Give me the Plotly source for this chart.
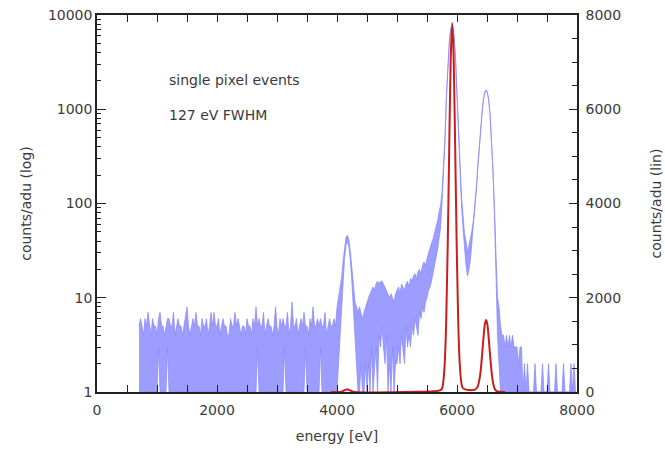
import plotly.graph_objects as go

# ---------------- data ----------------
bin_start_ev = 700
bin_width_ev = 25

# blue spectrum (log axis): per 25 eV bin, the top (hi) and bottom (lo)
# of the rapidly oscillating noisy line
blue_hi_700_3975 = [
    5, 6, 5, 4, 6, 5, 7, 5, 4, 6,
    5, 5, 4, 6, 7, 5, 5, 4, 5, 6,
    6, 5, 5, 7, 4, 5, 6, 5, 5, 4,
    5, 6, 8, 5, 4, 5, 6, 5, 7, 5,
    5, 4, 6, 5, 5, 6, 4, 5, 7, 5,
    7, 5, 5, 6, 4, 5, 6, 5, 5, 4,
    4, 6, 5, 5, 7, 5, 6, 5, 4, 5,
    5, 4, 6, 5, 5, 4, 6, 5, 8, 5,
    6, 5, 5, 7, 4, 5, 6, 5, 5, 4,
    5, 8, 5, 4, 6, 5, 6, 5, 5, 7,
    4, 5, 9, 5, 5, 6, 4, 5, 6, 5,
    7, 5, 5, 4, 6, 5, 8, 5, 5, 6,
    5, 6, 5, 5, 7, 4, 5, 6, 5, 5,
    6, 5,
]
blue_lo_700_3975 = [
    1, 1, 1, 1, 1, 1, 1, 1, 1, 1,
    1, 1, 1, 3, 1, 1, 1, 1, 1, 3,
    1, 1, 1, 1, 1, 1, 1, 1, 1, 1,
    1, 1, 1, 1, 1, 1, 1, 1, 1, 1,
    1, 1, 1, 1, 1, 1, 1, 1, 1, 1,
    1, 1, 1, 1, 1, 1, 1, 1, 1, 1,
    1, 1, 1, 1, 1, 1, 1, 1, 1, 1,
    1, 1, 1, 1, 1, 1, 1, 1, 1, 3,
    1, 1, 1, 1, 1, 1, 1, 1, 1, 1,
    1, 1, 1, 1, 1, 1, 1, 3, 1, 1,
    1, 1, 1, 1, 1, 1, 1, 1, 1, 1,
    1, 3, 1, 1, 1, 1, 1, 1, 1, 1,
    1, 3, 1, 1, 1, 1, 1, 1, 1, 1,
    1, 1,
]
blue_hi_4000_4975 = [
    8, 10, 12, 16, 24, 34, 44, 46, 40, 30,
    20, 13, 9, 8, 7, 8, 7, 6, 7, 8,
    9, 10, 11, 12, 13, 12, 14, 15, 14, 15,
    15, 14, 13, 12, 11, 10, 11, 10, 9, 11,
]
blue_lo_4000_4975 = [
    1, 2, 4, 8, 16, 26, 36, 40, 34, 24,
    14, 8, 4, 2, 1, 1, 2, 1, 1, 2,
    1, 2, 1, 3, 1, 2, 3, 1, 4, 3,
    5, 3, 2, 4, 1, 2, 1, 3, 1, 2,
]
blue_hi_5000_5975 = [
    12, 13, 11, 14, 13, 12, 14, 15, 13, 16,
    15, 17, 18, 16, 19, 20, 18, 22, 24, 22,
    26, 30, 34, 38, 42, 48, 55, 65, 80, 95,
    130, 230, 520, 1500, 3400, 5600, 7400, 7800, 6200, 3600,
]
blue_lo_5000_5975 = [
    2, 3, 2, 4, 3, 2, 5, 3, 4, 3,
    5, 4, 6, 5, 4, 7, 6, 8, 7, 9,
    10, 12, 13, 15, 18, 22, 26, 32, 42, 55,
    100, 200, 460, 1400, 3200, 5400, 7200, 7600, 6000, 3400,
]
blue_hi_6000_6975 = [
    1500, 580, 240, 120, 75, 48, 40, 30, 36, 42,
    52, 68, 95, 155, 265, 455, 705, 1060, 1390, 1590,
    1570, 1310, 910, 510, 225, 85, 26, 10, 8, 5,
    4, 4, 3, 4, 3, 4, 3, 4, 3, 3,
]
blue_lo_6000_6975 = [
    1400, 520, 200, 95, 55, 30, 22, 17, 20, 26,
    40, 56, 85, 145, 255, 445, 695, 1040, 1370, 1570,
    1550, 1290, 890, 490, 215, 75, 18, 4, 2, 1,
    1, 1, 1, 1, 1, 1, 1, 1, 1, 1,
]
blue_hi_7000_7975 = [
    3, 2, 3, 3, 1, 2, 1, 2, 1, 1,
    1, 1, 2, 1, 1, 1, 1, 2, 1, 1,
    1, 2, 1, 1, 1, 1, 2, 1, 1, 1,
    1, 2, 1, 1, 1, 1, 2, 1, 2, 1,
]
blue_lo_7000_7975 = [
    1, 1, 1, 1, 1, 1, 1, 1, 1, 1,
    1, 1, 1, 1, 1, 1, 1, 1, 1, 1,
    1, 1, 1, 1, 1, 1, 1, 1, 1, 1,
    1, 1, 1, 1, 1, 1, 1, 1, 1, 1,
]

# red spectrum (linear axis)
red_energy = [3900, 4050, 4100, 4140, 4170, 4200, 4240, 4300, 5400, 5600,
              5700, 5745, 5770, 5795, 5820, 5845, 5870, 5895, 5920, 5945,
              5970, 5995, 6020, 6045, 6070, 6095, 6150, 6200, 6250, 6300,
              6340, 6365, 6390, 6415, 6440, 6465, 6485, 6505, 6530, 6555,
              6580, 6605, 6630, 6660, 6720, 6800]
red_counts = [0, 0, 20, 45, 55, 45, 20, 0, 5, 15,
              30, 60, 200, 600, 1500, 3090, 5150, 7050, 7830, 7050,
              5150, 3090, 1500, 620, 220, 90, 50, 40, 40, 50,
              100, 210, 400, 740, 1130, 1440, 1530, 1440, 1120, 720,
              390, 170, 65, 20, 3, 0]

x_ticks = [0, 2000, 4000, 6000, 8000]
y_log_ticks = [1, 10, 100, 1000, 10000]
y_lin_ticks = [0, 2000, 4000, 6000, 8000]

annotation_lines = ["single pixel events", "127 eV FWHM"]

# ---------------- figure ----------------
blue_hi = blue_hi_700_3975 + blue_hi_4000_4975 + blue_hi_5000_5975 + blue_hi_6000_6975 + blue_hi_7000_7975
blue_lo = blue_lo_700_3975 + blue_lo_4000_4975 + blue_lo_5000_5975 + blue_lo_6000_6975 + blue_lo_7000_7975
blue_energy = [bin_start_ev + bin_width_ev * i for i in range(len(blue_hi))]

FONT = "DejaVu Sans"
TXT = "#3a3a3a"
AX = "#222222"
BLUE_LINE = "rgba(135,135,255,0.9)"
BLUE_FILL = "rgba(140,140,255,0.85)"

fig = go.Figure()
fig.add_trace(go.Scatter(
    x=blue_energy, y=blue_lo, mode="lines",
    line=dict(color=BLUE_LINE, width=0.8),
    yaxis="y", showlegend=False, hoverinfo="skip"))
fig.add_trace(go.Scatter(
    x=blue_energy, y=blue_hi, mode="lines", fill="tonexty", fillcolor=BLUE_FILL,
    line=dict(color=BLUE_LINE, width=0.8),
    yaxis="y", showlegend=False, hoverinfo="skip"))
fig.add_trace(go.Scatter(
    x=red_energy, y=red_counts, mode="lines", line_shape="spline",
    line=dict(color="#c81e1e", width=2),
    yaxis="y2", showlegend=False, hoverinfo="skip"))

minor_log = [m * 10 ** d for d in range(4) for m in range(2, 10)]

fig.update_layout(
    width=665, height=449,
    margin=dict(l=97, r=88, t=15, b=57),
    paper_bgcolor="white", plot_bgcolor="white",
    font=dict(family=FONT, size=14, color=TXT),
    xaxis=dict(
        range=[0, 8000], tickvals=x_ticks, ticks="inside", ticklen=7, tickwidth=1.2,
        tickcolor=AX, showline=True, linecolor=AX, linewidth=1.5, mirror="allticks",
        showgrid=False, zeroline=False, automargin=False, ticklabelstandoff=4,
        minor=dict(dtick=500, ticks="inside", ticklen=4, tickcolor=AX, showgrid=False),
        tickfont=dict(size=14, color=TXT),
        title=dict(text="energy [eV]", font=dict(size=14, color=TXT), standoff=15),
    ),
    yaxis=dict(
        type="log", range=[0, 4], tickvals=y_log_ticks, ticktext=[str(v) for v in y_log_ticks],
        ticks="inside", ticklen=9, tickwidth=1.2, tickcolor=AX,
        showline=True, linecolor=AX, linewidth=1.5, showgrid=False, zeroline=False,
        automargin=False,
        minor=dict(tickvals=minor_log, ticks="inside", ticklen=4, tickcolor=AX, showgrid=False),
        tickfont=dict(size=14, color=TXT),
        title=dict(text="counts/adu (log)", font=dict(size=14, color=TXT), standoff=13),
    ),
    yaxis2=dict(
        overlaying="y", side="right", range=[0, 8000], tickvals=y_lin_ticks,
        ticks="inside", ticklen=8, tickwidth=1.2, tickcolor=AX,
        showline=True, linecolor=AX, linewidth=1.5, showgrid=False, zeroline=False,
        automargin=False, ticklabelstandoff=4,
        minor=dict(dtick=500, ticks="inside", ticklen=5, tickcolor=AX, showgrid=False),
        tickfont=dict(size=14, color=TXT),
        title=dict(text="counts/adu (lin)", font=dict(size=14, color=TXT), standoff=31),
    ),
)

for txt, yy in zip(annotation_lines, [0.828, 0.735]):
    fig.add_annotation(text=txt, xref="paper", yref="paper", x=0.146, y=yy,
                       xanchor="left", yanchor="middle", showarrow=False,
                       font=dict(family=FONT, size=14, color=TXT))

fig.write_html("out.html", config={"displayModeBar": False},
               post_script="document.body.style.margin='0px';")
